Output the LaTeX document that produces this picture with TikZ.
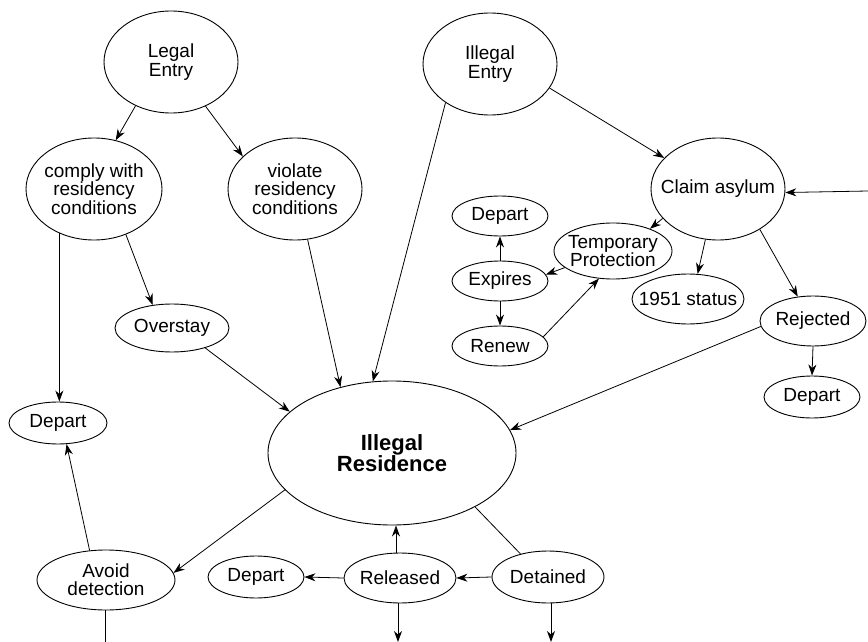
\documentclass[tikz,border=0pt]{standalone}
\usepackage{fontspec}
\setmainfont{Liberation Sans}
\usetikzlibrary{arrows.meta,shapes.geometric}

\begin{document}
\begin{tikzpicture}[x=1pt,y=-1pt,
  oval/.style={draw,ellipse,line width=0.9pt,inner xsep=-20pt,inner ysep=-10pt,align=center,
    font=\fontsize{19}{18.3}\selectfont},
  arr/.style={-{Stealth[length=11pt,width=8pt,inset=3.5pt]},line width=0.8pt},
  line/.style={line width=0.8pt}
]
\useasboundingbox (0,0) rectangle (868,642);

% entry routes
\node[oval,minimum width=134pt,minimum height=102pt] (legal) at (171,62) {Legal\\Entry};
\node[oval,minimum width=134pt,minimum height=102pt] (illegal) at (490,64) {Illegal\\Entry};
\node[oval,minimum width=136pt,minimum height=102pt] (comply) at (94,189) {comply with\\residency\\conditions};
\node[oval,minimum width=134pt,minimum height=102pt] (violate) at (295,189) {violate\\residency\\conditions};
\node[oval,minimum width=114pt,minimum height=48pt] (overstay) at (172,328) {Overstay};
\node[oval,minimum width=98pt,minimum height=42pt] (departL) at (58,423) {Depart};

% asylum branch
\node[oval,minimum width=134pt,minimum height=102pt] (asylum) at (718,189) {Claim asylum};
\node[oval,minimum width=118pt,minimum height=56pt] (tempprot) at (613,251) {Temporary\\Protection};
\node[oval,minimum width=96pt,minimum height=40pt] (departTP) at (500,216) {Depart};
\node[oval,minimum width=96pt,minimum height=40pt] (expires) at (500,281) {Expires};
\node[oval,minimum width=96pt,minimum height=40pt] (renew) at (500,346) {Renew};
\node[oval,minimum width=112pt,minimum height=50pt] (status) at (688,299) {1951 status};
\node[oval,minimum width=106pt,minimum height=50pt] (rejected) at (813,321) {Rejected};
\node[oval,minimum width=96pt,minimum height=42pt] (departRej) at (812,397) {Depart};

% residence and exits
\node[oval,minimum width=248pt,minimum height=144pt,font=\fontsize{22}{20.5}\selectfont\bfseries] (residence) at (392,453) {Illegal\\Residence};
\node[oval,minimum width=138pt,minimum height=60pt] (avoid) at (106,580) {Avoid\\detection};
\node[oval,minimum width=96pt,minimum height=42pt] (departRel) at (256,577) {Depart};
\node[oval,minimum width=112pt,minimum height=50pt] (released) at (400,578) {Released};
\node[oval,minimum width=112pt,minimum height=52pt] (detained) at (548,577) {Detained};

\coordinate (offR) at (868,191);
\coordinate (offAvoid) at (105,642);
\coordinate (offRel) at (398,642);
\coordinate (offDet) at (551,642);

\draw[arr] (legal.231) -- (comply.66);
\draw[arr] (legal.-52) -- (violate.148);
\draw[arr] (comply.-55) -- (overstay.130);
\draw[arr] (comply.232) -- (comply.232 |- departL.north);
\draw[arr] (violate.-76) -- (residence.128);
\draw[arr] (illegal.221) -- (residence.105);
\draw[arr] (illegal.-22) -- (asylum.150);
\draw[arr] (overstay.-31) -- (residence.158);

\draw[arr] (offR) -- (asylum.-3);
\draw[arr] (asylum.208) -- (tempprot.31);
\draw[arr] (asylum.256) -- (status.69);
\draw[arr] (asylum.-44) -- (rejected.122);
\draw[arr] (tempprot.199) -- (expires.8);
\draw[arr] (expires.north) -- (departTP.south);
\draw[arr] (expires.south) -- (renew.north);
\draw[arr] (renew.12) -- (tempprot.243);
\draw[arr] (rejected.south) -- (departRej.north);
\draw[arr] (rejected.186) -- (residence.11);

\draw[arr] (residence.199) -- (avoid.6);
\draw[arr] (avoid.119) -- (departL.-68);
\draw[line] (avoid.south -| offAvoid) -- (offAvoid);
\draw[arr] (released.north -| 396,0) -- (396,0 |- residence.south);
\draw[arr] (released.west) -- (departRel.east);
\draw[arr] (released.south -| offRel) -- (offRel);
\draw[arr] (detained.west) -- (released.east);
\draw[line] (residence.-33) -- (detained.140);
\draw[arr] (detained.south -| offDet) -- (offDet);
\end{tikzpicture}
\end{document}
